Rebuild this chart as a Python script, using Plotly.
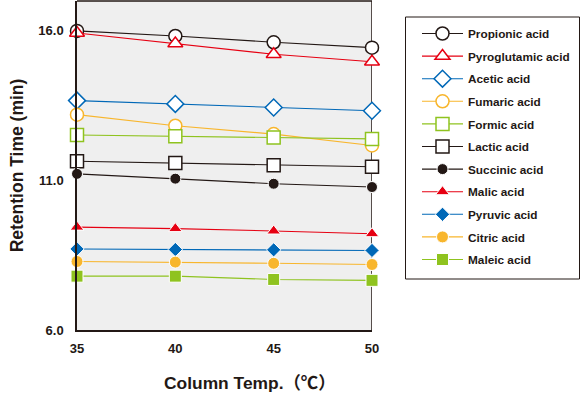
import plotly.graph_objects as go

temps = [35, 40, 45, 50]
propionic = [16.0, 15.83, 15.62, 15.44]
pyroglutamic = [15.93, 15.58, 15.22, 14.97]
acetic = [13.67, 13.56, 13.44, 13.33]
fumaric = [13.2, 12.83, 12.55, 12.17]
formic = [12.52, 12.48, 12.44, 12.39]
lactic = [11.64, 11.58, 11.51, 11.46]
succinic = [11.22, 11.06, 10.89, 10.78]
malic = [9.44, 9.39, 9.31, 9.22]
pyruvic = [8.71, 8.69, 8.68, 8.66]
citric = [8.29, 8.27, 8.23, 8.19]
maleic = [7.8, 7.8, 7.69, 7.66]

names = ["Propionic acid", "Pyroglutamic acid", "Acetic acid", "Fumaric acid",
         "Formic acid", "Lactic acid", "Succinic acid", "Malic acid",
         "Pyruvic acid", "Citric acid", "Maleic acid"]
series = [propionic, pyroglutamic, acetic, fumaric, formic, lactic,
          succinic, malic, pyruvic, citric, maleic]

BLACK = "#231815"
RED = "#e60012"
BLUE = "#0068b7"
ORANGE = "#f8b62d"
GREEN = "#8fc31f"

styles = [
    (BLACK, "circle", 13, True),
    (RED, "triangle-up", 13, True),
    (BLUE, "diamond", 13, True),
    (ORANGE, "circle", 13, True),
    (GREEN, "square", 13, True),
    (BLACK, "square", 13, True),
    (BLACK, "circle", 11, False),
    (RED, "triangle-up", 12, False),
    (BLUE, "diamond", 11, False),
    (ORANGE, "circle", 12, False),
    (GREEN, "square", 12, False),
]

W, H = 581, 399
ML, MR, MT, MB = 77, 209, 1, 69
PW, PH = W - ML - MR, H - MT - MB


def px_x(p):
    return (p - ML) / PW


def px_y(p):
    return 1 - (p - MT) / PH


fig = go.Figure()
for i, (name, ys, (col, sym, size, hollow)) in enumerate(zip(names, series, styles)):
    if hollow:
        marker = dict(symbol=sym, size=size, color="white", line=dict(color=col, width=1.5))
    else:
        marker = dict(symbol=sym, size=size, color=col, line=dict(color="white", width=1))
    fig.add_trace(go.Scatter(
        x=temps, y=ys, name=name, mode="lines+markers",
        line=dict(color=col, width=1.1), marker=marker,
        legendgroup=f"g{i}", cliponaxis=False,
    ))

font_family = "Liberation Sans, Arial, sans-serif"
fig.update_layout(
    width=W, height=H,
    margin=dict(l=ML, r=MR, t=MT, b=MB, autoexpand=False),
    plot_bgcolor="#efefef", paper_bgcolor="white",
    font=dict(family=font_family, color=BLACK),
    showlegend=True,
    legend=dict(
        x=px_x(417), y=px_y(19), yanchor="top", xanchor="left",
        font=dict(size=11.8, family=font_family, color=BLACK, weight="bold"),
        borderwidth=0, bgcolor="rgba(0,0,0,0)",
        tracegroupgap=3.6, itemwidth=41,
    ),
    xaxis=dict(
        range=[35, 50], tickvals=temps, ticktext=["35", "40", "45", "50"],
        showgrid=False, zeroline=False, showline=True, linecolor=BLACK, linewidth=1.5,
        ticks="", ticklabelstandoff=6,
        tickfont=dict(size=13, weight="bold", color=BLACK),
    ),
    yaxis=dict(
        range=[6, 17], tickvals=[6, 11, 16], ticktext=["6.0", "11.0", "16.0"],
        showgrid=False, zeroline=False, showline=True, linecolor=BLACK, linewidth=1.5,
        ticks="", ticklabelstandoff=9,
        tickfont=dict(size=13, weight="bold", color=BLACK),
        title=dict(text="Retention Time (min)", font=dict(size=17.5, weight="bold", color=BLACK),
                   standoff=10),
    ),
)

# right and top borders of the plot area
fig.add_shape(type="line", xref="x", yref="paper", x0=50, x1=50, y0=0, y1=1,
              line=dict(color=BLACK, width=1.5), layer="below")
fig.add_shape(type="line", xref="paper", yref="paper", x0=0, x1=1, y0=1, y1=1,
              line=dict(color=BLACK, width=1.5), layer="below")
# legend frame
fig.add_shape(type="rect", xref="paper", yref="paper",
              x0=px_x(405.5), x1=px_x(579.5), y0=px_y(279), y1=px_y(17),
              line=dict(color=BLACK, width=1), fillcolor="white", layer="below")

fig.add_annotation(text="Column Temp.（℃）", xref="paper", yref="paper",
                   x=px_x(250), y=px_y(383),
                   xanchor="center", yanchor="middle", showarrow=False,
                   font=dict(size=17.4, weight="bold", color=BLACK,
                             family="Liberation Sans, Noto Sans CJK JP, sans-serif"))

fig.write_html("out.html", config={"displayModeBar": False},
               post_script="document.body.style.margin='0';")
